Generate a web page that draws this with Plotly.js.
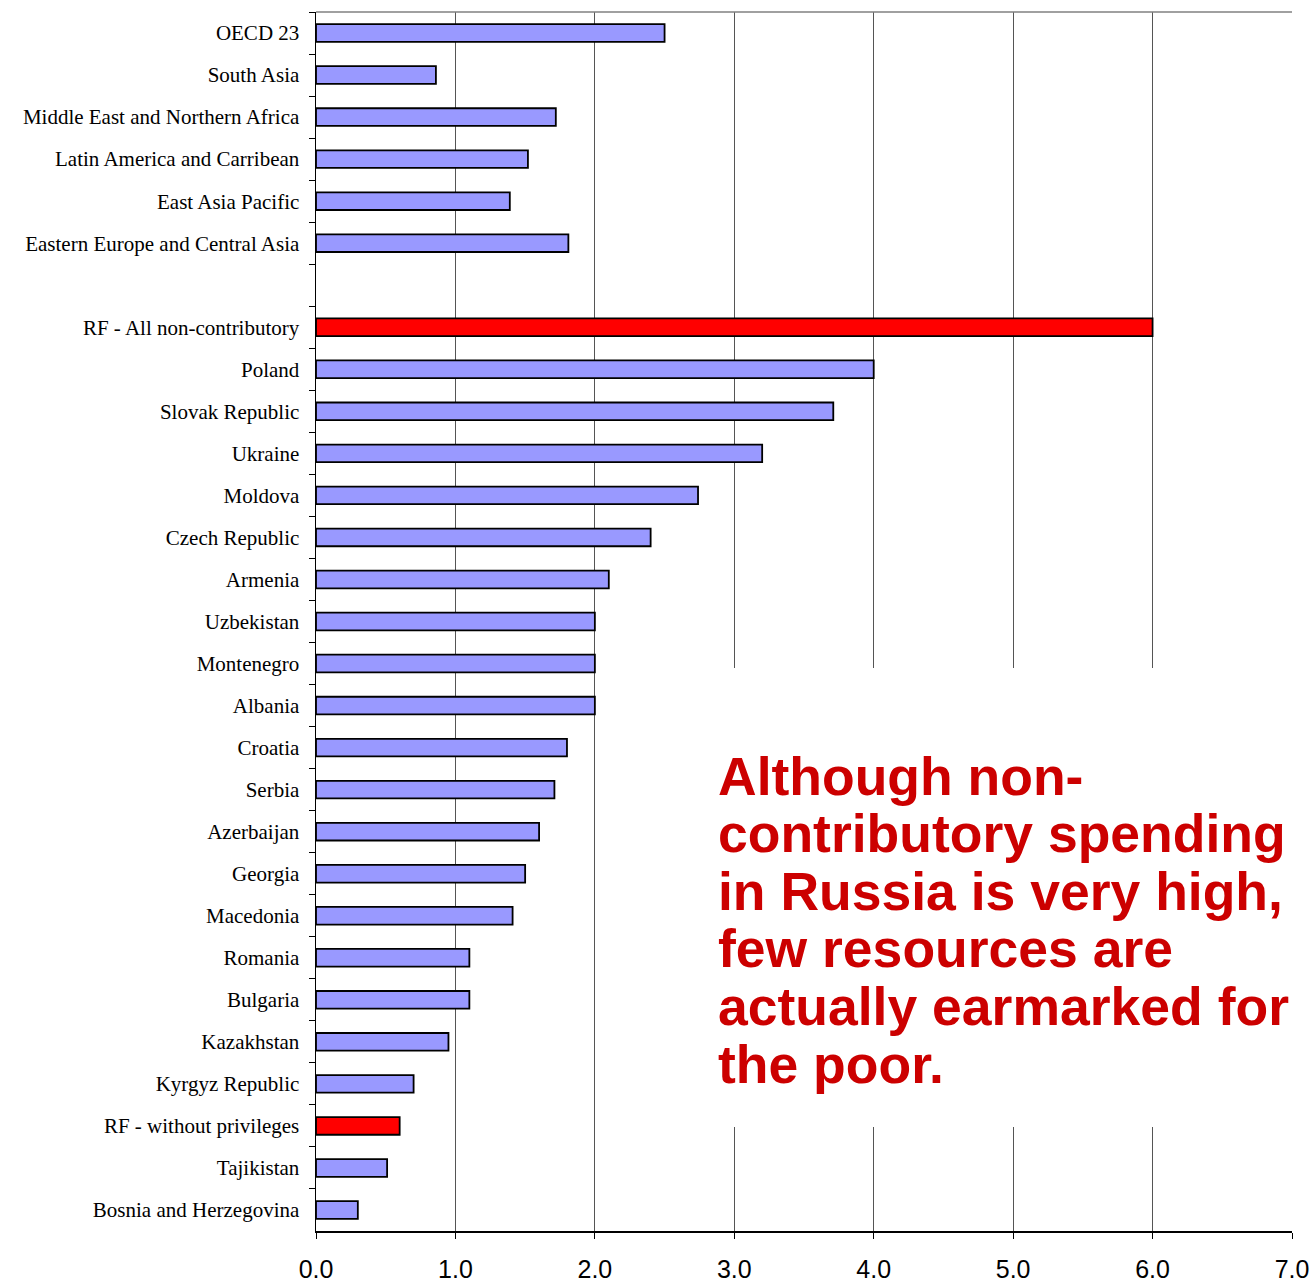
<!DOCTYPE html>
<html>
<head>
<meta charset="utf-8">
<script src="https://cdn.plot.ly/plotly-3.0.1.min.js"></script>
<style>html,body{margin:0;padding:0;background:#fff;}#chart{width:1315px;height:1282px;}</style>
</head>
<body>
<div id="chart"></div>
<script>
const categories = [
  "OECD 23", "South Asia", "Middle East and Northern Africa", "Latin America and Carribean",
  "East Asia Pacific", "Eastern Europe and Central Asia", " ",
  "RF - All non-contributory", "Poland", "Slovak Republic", "Ukraine", "Moldova",
  "Czech Republic", "Armenia", "Uzbekistan", "Montenegro", "Albania", "Croatia",
  "Serbia", "Azerbaijan", "Georgia", "Macedonia", "Romania", "Bulgaria",
  "Kazakhstan", "Kyrgyz Republic", "RF - without privileges", "Tajikistan",
  "Bosnia and Herzegovina"
];
const values = [
  2.5, 0.86, 1.72, 1.52, 1.39, 1.81, null,
  6.0, 4.0, 3.71, 3.2, 2.74, 2.4, 2.1, 2.0, 2.0, 2.0, 1.8,
  1.71, 1.6, 1.5, 1.41, 1.1, 1.1, 0.95, 0.7, 0.6, 0.51, 0.3
];
const highlighted = ["RF - All non-contributory", "RF - without privileges"];
const xTickValues = [0, 1, 2, 3, 4, 5, 6, 7];
const xTickLabels = ["0.0", "1.0", "2.0", "3.0", "4.0", "5.0", "6.0", "7.0"];
const noteLines = [
  "Although non-",
  "contributory spending",
  "in Russia is very high,",
  "few resources are",
  "actually earmarked for",
  "the poor."
];

const L = 316, R = 1292, T = 12, B = 1231;
const px = x => (x - L) / (R - L);
const py = y => (B - y) / (B - T);

const barColors = categories.map(c => highlighted.includes(c) ? "#FF0000" : "#9999FF");

const trace = {
  type: "bar",
  orientation: "h",
  y: categories,
  x: values,
  width: 0.42,
  marker: {color: barColors, line: {color: "#000000", width: 1.8}},
  hoverinfo: "skip"
};

const baseY0 = 776, lineStep = 57.6;
const annotations = noteLines.map((t, i) => ({
  text: t,
  xref: "paper", yref: "paper",
  x: px(716), y: py(baseY0 + i * lineStep),
  xanchor: "left", yanchor: "middle",
  showarrow: false,
  font: {family: "Arial, 'Liberation Sans', sans-serif", size: 53.5, color: "#CC0000", weight: "bold"}
}));

const layout = {
  width: 1315, height: 1282,
  margin: {l: L, r: 1315 - R, t: T, b: 1282 - B, pad: 0},
  paper_bgcolor: "#ffffff", plot_bgcolor: "#ffffff",
  showlegend: false,
  bargap: 0.58,
  xaxis: {
    range: [0, 7],
    tickvals: xTickValues, ticktext: xTickLabels,
    ticks: "outside", ticklen: 6, tickcolor: "#000", tickwidth: 1,
    showgrid: true, gridcolor: "#555555", gridwidth: 1,
    zeroline: false,
    showline: true, linecolor: "#000", linewidth: 1.5,
    ticklabelstandoff: 9,
    tickfont: {family: "Arial, 'Liberation Sans', sans-serif", size: 25, color: "#000"},
    fixedrange: true
  },
  yaxis: {
    type: "category",
    autorange: "reversed",
    tickson: "boundaries",
    ticks: "outside", ticklen: 6, tickcolor: "#000", tickwidth: 1,
    showgrid: false, zeroline: false,
    showline: true, linecolor: "#000", linewidth: 1.5,
    ticklabelstandoff: 11,
    tickfont: {family: "'Liberation Serif', 'Times New Roman', serif", size: 21, color: "#000"},
    fixedrange: true
  },
  shapes: [
    {type: "line", xref: "paper", yref: "paper", x0: 0, x1: 1, y0: 1, y1: 1,
     line: {color: "#808080", width: 1.5}},
    {type: "rect", xref: "paper", yref: "paper", x0: px(704), x1: 1.03, y0: py(1127), y1: py(668),
     fillcolor: "#ffffff", line: {width: 0}, layer: "above"}
  ],
  annotations: annotations
};

Plotly.newPlot("chart", [trace], layout, {displayModeBar: false, staticPlot: true});
</script>
</body>
</html>
